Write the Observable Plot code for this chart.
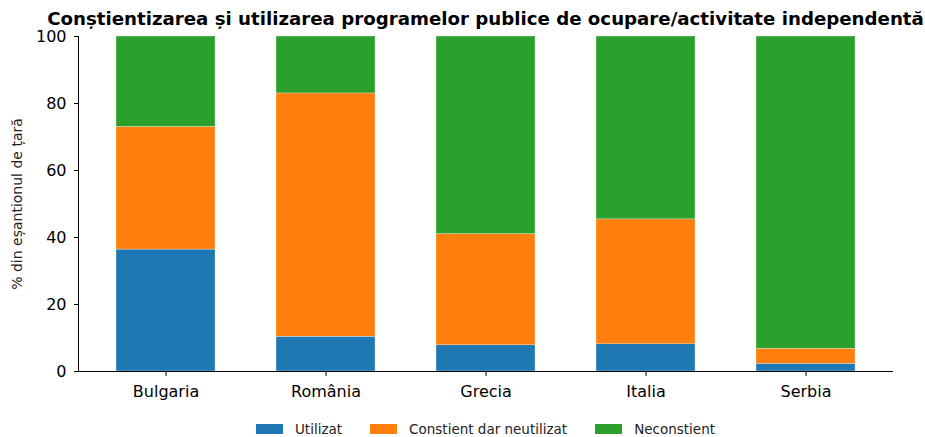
<!DOCTYPE html>
<html>
<head>
<meta charset="utf-8">
<script src="https://cdn.jsdelivr.net/npm/d3@7"></script>
<script src="https://cdn.jsdelivr.net/npm/@observablehq/plot@0.6"></script>
<style>
  body { margin: 0; background: white; font-family: "DejaVu Sans", sans-serif; }
  #wrap { width: 925px; height: 437px; overflow: hidden; }
  #title { height: 28px; box-sizing: border-box; padding-top: 10px; margin-left: 78px; width: 815px;
           display: flex; justify-content: center; white-space: nowrap;
           font-size: 18.2px; line-height: 18px; font-weight: bold; color: black; }
  #legend { height: 31px; margin-left: 78px; width: 815px; display: flex; justify-content: center;
            align-items: center; font-size: 13.5px; color: #222; padding-top: 15px; box-sizing: border-box; }
  .item { display: flex; align-items: center; margin: 0 14px; }
  .sw { width: 27px; height: 9.5px; margin-right: 12px; }
</style>
</head>
<body>
<div id="wrap">
  <div id="title"></div>
  <div id="chart"></div>
  <div id="legend"></div>
</div>
<script>
const titleText = "Conștientizarea și utilizarea programelor publice de ocupare/activitate independentă";
const yLabel = "% din eșantionul de țară";
const countries = ["Bulgaria", "România", "Grecia", "Italia", "Serbia"];
const series = ["Utilizat", "Constient dar neutilizat", "Neconstient"];
const colors = ["#1f77b4", "#ff7f0e", "#2ca02c"];
const yTicks = [0, 20, 40, 60, 80, 100];
const utilizat = [36.4, 10.4, 7.8, 8.1, 2.3];
const constient = [36.6, 72.6, 33.2, 37.3, 4.5];
const neconstient = [27.0, 17.0, 59.0, 54.6, 93.2];

const values = [utilizat, constient, neconstient];
const data = [];
countries.forEach((c, i) => {
  series.forEach((s, j) => data.push({country: c, series: s, value: values[j][i]}));
});

document.getElementById("title").textContent = titleText;

const chart = Plot.plot({
  width: 925,
  height: 378,
  marginTop: 8,
  marginBottom: 35,
  marginLeft: 78,
  marginRight: 32,
  style: {fontFamily: "DejaVu Sans", background: "white", color: "black", overflow: "visible"},
  x: {domain: countries, paddingInner: 0.383, paddingOuter: 0.231, label: null},
  y: {domain: [0, 100], label: null},
  color: {domain: series, range: colors},
  marks: [
    Plot.barY(data, {x: "country", y: "value", fill: "series", stroke: "white", strokeWidth: 0.3}),
    Plot.axisY({ticks: yTicks, tickSize: 4, tickPadding: 8, fontSize: 16, label: null}),
    Plot.axisX({tickSize: 5, tickPadding: 9, fontSize: 16, label: null}),
    Plot.frame({anchor: "left"}),
    Plot.ruleY([0]),
    Plot.text([yLabel], {frameAnchor: "left", textAnchor: "middle", rotate: -90, dx: -61, fontSize: 14, fill: "#222"})
  ]
});
document.getElementById("chart").appendChild(chart);

const legend = document.getElementById("legend");
series.forEach((s, j) => {
  const item = document.createElement("div");
  item.className = "item";
  const sw = document.createElement("div");
  sw.className = "sw";
  sw.style.background = colors[j];
  const t = document.createElement("span");
  t.textContent = s;
  item.appendChild(sw);
  item.appendChild(t);
  legend.appendChild(item);
});
</script>
</body>
</html>
